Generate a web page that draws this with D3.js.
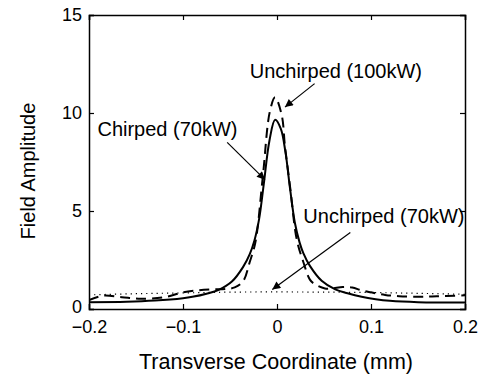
<!DOCTYPE html>
<html>
<head>
<meta charset="utf-8">
<script src="https://cdn.jsdelivr.net/npm/d3@7"></script>
<style>
  body { margin: 0; background: #fff; }
  svg { display: block; font-family: "Liberation Sans", Arial, sans-serif; }
</style>
</head>
<body>
<div id="chart"></div>
<script>
// Chirped (70kW) - solid
const chirpedX = [-0.2, -0.16, -0.13, -0.1, -0.09, -0.075, -0.062, -0.048, -0.036, -0.029, -0.024, -0.019, -0.014, -0.008, -0.002, 0.004, 0.009, 0.014, 0.019, 0.024, 0.028, 0.035, 0.0475, 0.062, 0.075, 0.09, 0.105, 0.12, 0.15, 0.2];
const chirpedY = [0.35, 0.37, 0.43, 0.55, 0.62, 0.78, 0.98, 1.4, 2.15, 2.8, 3.5, 4.6, 6.4, 8.6, 9.65, 9.2, 8.0, 6.1, 4.4, 3.4, 2.85, 2.2, 1.44, 1.0, 0.8, 0.62, 0.5, 0.42, 0.35, 0.33];

// Unchirped (100kW) - dashed
const unchirped100X = [-0.2, -0.185, -0.165, -0.145, -0.12, -0.1, -0.085, -0.07, -0.055, -0.045, -0.036, -0.029, -0.023, -0.015, -0.0075, -0.002, 0.005, 0.0085, 0.014, 0.021, 0.028, 0.035, 0.04, 0.051, 0.058, 0.07, 0.08, 0.09, 0.1, 0.115, 0.13, 0.15, 0.165, 0.18, 0.2];
const unchirped100Y = [0.45, 0.68, 0.6, 0.52, 0.6, 0.85, 0.95, 1.0, 1.02, 1.1, 1.42, 2.4, 3.4, 6.8, 10.1, 10.8, 9.9, 8.3, 6.2, 3.55, 2.4, 1.5, 1.27, 1.05, 1.05, 1.12, 1.1, 0.95, 0.85, 0.72, 0.65, 0.63, 0.64, 0.66, 0.7];

// Unchirped (70kW) - dotted
const unchirped70X = [-0.2, -0.15, -0.1, -0.05, 0, 0.05, 0.1, 0.15, 0.2];
const unchirped70Y = [0.72, 0.78, 0.82, 0.86, 0.87, 0.86, 0.84, 0.8, 0.75];

const xTicks = [-0.2, -0.1, 0, 0.1, 0.2];
const xTickLabels = ['\u22120.2', '\u22120.1', '0', '0.1', '0.2'];
const yTicks = [0, 5, 10, 15];
const yTickLabels = ['0', '5', '10', '15'];

// annotations: label, text anchor point, arrow start, arrow end (data units)
const annoLabels = ['Unchirped (100kW)', 'Chirped (70kW)', 'Unchirped (70kW)'];
const annoText = [[-0.029, 11.8], [-0.191, 8.83], [0.028, 4.37]];
const annoFrom = [[0.040, 11.5], [-0.053, 8.5], [0.078, 3.9]];
const annoTo = [[0.0085, 10.3], [-0.0128, 6.6], [-0.005, 1.0]];

const width = 482, height = 378;
const margin = {left: 89, right: 17, top: 15, bottom: 69};

const svg = d3.select('#chart').append('svg')
  .attr('width', width).attr('height', height);

const x = d3.scaleLinear().domain([-0.2, 0.2]).range([margin.left, width - margin.right]);
const y = d3.scaleLinear().domain([0, 15]).range([height - margin.bottom, margin.top]);

const defs = svg.append('defs');
defs.append('clipPath').attr('id', 'clip')
  .append('rect')
  .attr('x', x(-0.2)).attr('y', y(15))
  .attr('width', x(0.2) - x(-0.2)).attr('height', y(0) - y(15));

defs.append('marker')
  .attr('id', 'arrow')
  .attr('viewBox', '0 0 10 10')
  .attr('refX', 10).attr('refY', 5)
  .attr('markerWidth', 13).attr('markerHeight', 8)
  .attr('markerUnits', 'userSpaceOnUse')
  .attr('orient', 'auto')
  .append('path').attr('d', 'M0,0 L10,5 L0,10 Z').attr('fill', '#000');

const line = d3.line()
  .x(d => x(d[0]))
  .y(d => y(d[1]))
  .curve(d3.curveCatmullRom.alpha(0.5));

const plot = svg.append('g').attr('clip-path', 'url(#clip)');

plot.append('path')
  .datum(d3.zip(unchirped70X, unchirped70Y))
  .attr('d', line)
  .attr('fill', 'none').attr('stroke', '#000')
  .attr('stroke-width', 1.2).attr('stroke-dasharray', '1.2,4');

plot.append('path')
  .datum(d3.zip(unchirped100X, unchirped100Y))
  .attr('d', line)
  .attr('fill', 'none').attr('stroke', '#000')
  .attr('stroke-width', 2).attr('stroke-dasharray', '10,6');

plot.append('path')
  .datum(d3.zip(chirpedX, chirpedY))
  .attr('d', line)
  .attr('fill', 'none').attr('stroke', '#000')
  .attr('stroke-width', 2);

// axes box with inward ticks
const tickLen = 5;
svg.append('g').attr('transform', `translate(0,${y(0)})`)
  .call(d3.axisBottom(x).tickValues(xTicks).tickSize(-tickLen).tickFormat((d, i) => xTickLabels[i]).tickPadding(11))
  .call(g => g.selectAll('text').attr('font-size', 18).attr('fill', '#000').attr('font-family', 'Liberation Sans, Arial, sans-serif'));
svg.append('g').attr('transform', `translate(0,${y(15)})`)
  .call(d3.axisTop(x).tickValues(xTicks).tickSize(-tickLen).tickFormat(''));
svg.append('g').attr('transform', `translate(${x(-0.2)},0)`)
  .call(d3.axisLeft(y).tickValues(yTicks).tickSize(-tickLen).tickFormat((d, i) => yTickLabels[i]).tickPadding(7))
  .call(g => g.selectAll('text').attr('font-size', 18).attr('fill', '#000').attr('font-family', 'Liberation Sans, Arial, sans-serif'))
  .call(g => g.selectAll('.tick').filter(d => d === 0).select('text').attr('dy', '0.2em'));
svg.append('g').attr('transform', `translate(${x(0.2)},0)`)
  .call(d3.axisRight(y).tickValues(yTicks).tickSize(-tickLen).tickFormat(''));

svg.selectAll('.domain').attr('stroke', '#000').attr('stroke-width', 1.5);
svg.selectAll('.tick line').attr('stroke', '#000').attr('stroke-width', 1.2);

// annotations
annoLabels.forEach((t, i) => {
  svg.append('text')
    .attr('x', x(annoText[i][0])).attr('y', y(annoText[i][1]))
    .attr('font-size', 20).attr('fill', '#000')
    .text(t);
  svg.append('line')
    .attr('x1', x(annoFrom[i][0])).attr('y1', y(annoFrom[i][1]))
    .attr('x2', x(annoTo[i][0])).attr('y2', y(annoTo[i][1]))
    .attr('stroke', '#000').attr('stroke-width', 1.2)
    .attr('marker-end', 'url(#arrow)');
});

// axis titles
svg.append('text')
  .attr('x', 276).attr('y', 369)
  .attr('text-anchor', 'middle').attr('font-size', 21.5)
  .text('Transverse Coordinate (mm)');
svg.append('text')
  .attr('transform', `translate(35,${(92 + 250) / 2}) rotate(-90)`)
  .attr('text-anchor', 'middle').attr('font-size', 20)
  .text('Field Amplitude');
</script>
</body>
</html>
